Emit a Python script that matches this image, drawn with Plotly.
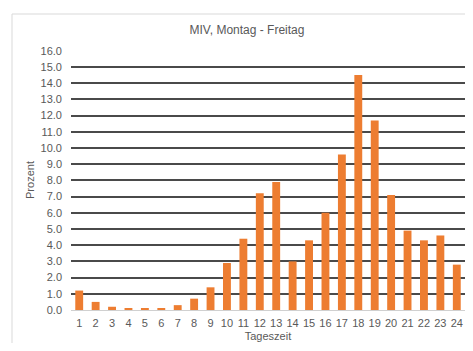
import plotly.graph_objects as go

hours = [str(h) for h in range(1, 25)]
prozent = [1.2, 0.5, 0.2, 0.1, 0.1, 0.1, 0.3, 0.7, 1.4, 2.9, 4.4, 7.2,
           7.9, 3.0, 4.3, 6.0, 9.6, 14.5, 11.7, 7.1, 4.9, 4.3, 4.6, 2.8]
y_ticks = [float(v) for v in range(0, 17)]

font_family = "Liberation Sans, Arial, sans-serif"
text_color = "#595959"

# page has an 8px body margin on every side; figure sized to fit the window
W, H = 457, 335

fig = go.Figure(go.Bar(
    x=hours, y=prozent,
    marker=dict(color="#ED7D31", line=dict(width=0)),
))

fig.update_layout(
    width=W, height=H,
    margin=dict(l=63, r=0, t=42, b=33),
    paper_bgcolor="white", plot_bgcolor="white",
    bargap=0.52,
    showlegend=False,
    font=dict(family=font_family, size=11, color=text_color),
    title=dict(text="MIV, Montag - Freitag", x=239 / W, xanchor="center",
               y=1 - 22 / H, yanchor="middle",
               font=dict(family=font_family, size=12, color=text_color)),
    xaxis=dict(
        type="category", showgrid=False, showline=False, ticks="",
        ticklabelstandoff=5,
        title=dict(text="Tageszeit", standoff=4,
                   font=dict(size=11, color=text_color)),
        tickfont=dict(size=11, color=text_color),
    ),
    yaxis=dict(
        range=[0, 16.05], tickvals=y_ticks, tickformat=".1f",
        showgrid=True, gridcolor="#4a4a4a", gridwidth=2,
        zeroline=True, zerolinecolor="#d0d0d0", zerolinewidth=1,
        showline=False, ticks="", ticklabelstandoff=8,
        title=dict(text="Prozent", standoff=3,
                   font=dict(size=11, color=text_color)),
        tickfont=dict(size=11, color=text_color),
    ),
    shapes=[dict(type="rect", xref="paper", yref="paper",
                 x0=(12 - 71) / 394, x1=1.2,
                 y0=-0.5, y1=1 + (50 - 14) / 260,
                 line=dict(color="#d9d9d9", width=1), layer="below")],
)

fig.write_html("out.html")
